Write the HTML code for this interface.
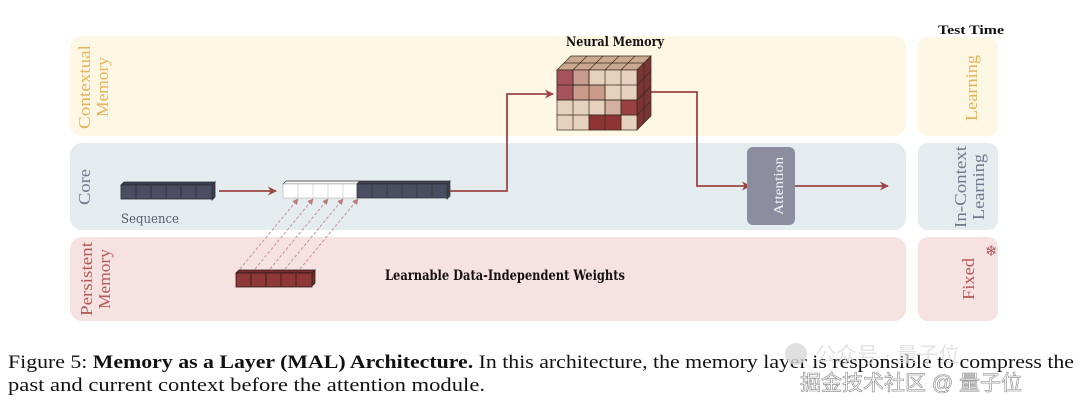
<!DOCTYPE html>
<html><head><style>
html,body{margin:0;padding:0;background:#fff;}
svg{display:block;}
</style></head><body>
<svg width="1080" height="406" viewBox="0 0 1080 406" xmlns="http://www.w3.org/2000/svg" font-family="'Liberation Serif', serif">
<defs>
<marker id="ah" viewBox="0 0 10 10" refX="9" refY="5" markerWidth="9" markerHeight="9" orient="auto" markerUnits="userSpaceOnUse"><path d="M0,0 L10,5 L0,10 L3,5 Z" fill="#9c4545"/></marker>
<marker id="ahs" viewBox="0 0 10 10" refX="9" refY="5" markerWidth="6" markerHeight="6" orient="auto" markerUnits="userSpaceOnUse"><path d="M0,0 L10,5 L0,10 Z" fill="#b97a7a"/></marker>
</defs>
<rect x="70" y="36" width="836" height="100" rx="12" fill="#fdf7e4"/>
<rect x="70" y="143" width="836" height="87" rx="12" fill="#e5ecef"/>
<rect x="70" y="237" width="836" height="84" rx="12" fill="#f7e2e2"/>
<rect x="918" y="37" width="80" height="99" rx="10" fill="#fdf7e4"/>
<rect x="918" y="143" width="80" height="87" rx="10" fill="#e5ecef"/>
<rect x="918" y="237" width="80" height="84" rx="10" fill="#f7e2e2"/>
<text x="971" y="34" font-size="13" font-weight="bold" text-anchor="middle" fill="#111" textLength="66" lengthAdjust="spacingAndGlyphs">Test Time</text>
<g font-size="16.5">
<text transform="translate(90,87) rotate(-90)" text-anchor="middle" fill="#e8b25a" textLength="84" lengthAdjust="spacingAndGlyphs">Contextual</text>
<text transform="translate(108,87) rotate(-90)" text-anchor="middle" fill="#e8b25a" textLength="60" lengthAdjust="spacingAndGlyphs">Memory</text>
<text transform="translate(90,187) rotate(-90)" text-anchor="middle" fill="#6e7b8e" textLength="36" lengthAdjust="spacingAndGlyphs">Core</text>
<text transform="translate(92,279) rotate(-90)" text-anchor="middle" fill="#b45a5a" textLength="74" lengthAdjust="spacingAndGlyphs">Persistent</text>
<text transform="translate(110,279) rotate(-90)" text-anchor="middle" fill="#b45a5a" textLength="60" lengthAdjust="spacingAndGlyphs">Memory</text>
<text transform="translate(977,88) rotate(-90)" text-anchor="middle" fill="#e8b25a" textLength="66" lengthAdjust="spacingAndGlyphs">Learning</text>
<text transform="translate(966,187) rotate(-90)" text-anchor="middle" fill="#6e7b8e" textLength="82" lengthAdjust="spacingAndGlyphs">In-Context</text>
<text transform="translate(984,187) rotate(-90)" text-anchor="middle" fill="#6e7b8e" textLength="66" lengthAdjust="spacingAndGlyphs">Learning</text>
<text transform="translate(974,279) rotate(-90)" text-anchor="middle" fill="#b45a5a" textLength="42" lengthAdjust="spacingAndGlyphs">Fixed</text>
</g>
<text x="985" y="256" font-size="15" fill="#b45a5a" font-family="'DejaVu Sans',sans-serif">❄</text>
<g stroke="#2a2a35" stroke-width="0.8">
<path d="M121,185 l3,-3 h91 l-3,3 z M212,185 l3,-3 v15 l-3,3 z" fill="#3d3f52"/>
<rect x="121" y="185" width="91" height="14" fill="#4b4e63"/>
<path d="M136,185v14M151,185v14M166,185v14M181,185v14M196,185v14"/>
</g>
<text x="121" y="223" font-size="13" fill="#555c6a" font-family="'DejaVu Serif','Liberation Serif',serif" textLength="58" lengthAdjust="spacingAndGlyphs">Sequence</text>
<line x1="219" y1="191" x2="276" y2="191" stroke="#9c4545" stroke-width="1.8" marker-end="url(#ah)"/>
<g stroke="#333" stroke-width="0.7">
<path d="M283,184 l3,-3 h74 l-3,3 z" fill="#f2f2f2"/>
<rect x="283" y="184" width="74" height="14" fill="#fff" stroke="#bbb"/>
<path d="M298,184v14M313,184v14M328,184v14M343,184v14" stroke="#ccc"/>
<path d="M357,184 l3,-3 h90 l-3,3 z M447,184 l3,-3 v15 l-3,3 z" fill="#3d3f52"/>
<rect x="357" y="184" width="90" height="14" fill="#4b4e63"/>
<path d="M372,184v14M387,184v14M402,184v14M417,184v14M432,184v14"/>
</g>
<g stroke="#c08a8a" stroke-width="0.9" stroke-dasharray="3,2" marker-end="url(#ahs)">
<line x1="240" y1="269" x2="298" y2="199"/>
<line x1="255" y1="269" x2="313" y2="199"/>
<line x1="270" y1="269" x2="328" y2="199"/>
<line x1="285" y1="269" x2="343" y2="199"/>
<line x1="300" y1="269" x2="358" y2="199"/>
</g>
<g stroke="#2a1a1a" stroke-width="0.8">
<path d="M236,273 l3,-3 h76 l-3,3 z M312,273 l3,-3 v13 l-3,3 z" fill="#7a2e2e"/>
<rect x="236" y="273" width="76" height="14" fill="#8e3838"/>
<path d="M251,273v14M266,273v14M281,273v14M296,273v14"/>
</g>
<text x="385" y="280" font-size="14" fill="#111" font-family="'DejaVu Serif','Liberation Serif',serif" font-weight="bold" textLength="240" lengthAdjust="spacingAndGlyphs">Learnable Data-Independent Weights</text>
<polyline points="450,191 507,191 507,94 553,94" fill="none" stroke="#9c4545" stroke-width="1.8" marker-end="url(#ah)"/>
<polyline points="648,92 697,92 697,186 750,186" fill="none" stroke="#9c4545" stroke-width="1.8" marker-end="url(#ah)"/>
<line x1="795" y1="186" x2="888" y2="186" stroke="#9c4545" stroke-width="1.8" marker-end="url(#ah)"/>
<rect x="747" y="147" width="48" height="78" rx="6" fill="#8c8e9f"/>
<text transform="translate(783,186) rotate(-90)" text-anchor="middle" font-size="14" fill="#f4f4f4" textLength="58" lengthAdjust="spacingAndGlyphs">Attention</text>
<text x="615" y="46" font-size="13" text-anchor="middle" font-weight="bold" fill="#111" font-family="'DejaVu Serif','Liberation Serif',serif" textLength="98" lengthAdjust="spacingAndGlyphs">Neural Memory</text>
<g stroke="#3a2a20" stroke-width="0.7">
<path d="M557,70 l14,-14 h80 l-14,14 z" fill="#c9a88e"/>
<path d="M637,70 l14,-14 v60 l-14,14 z" fill="#7a3434"/>
<path d="M573,70 l14,-14 M589,70 l14,-14 M605,70 l14,-14 M621,70 l14,-14 M564,63h80 M637,85 l14,-14 M637,100 l14,-14 M637,115 l14,-14 M644,63v60" fill="none"/>
<rect x="557" y="70" width="80" height="60" fill="#e6d2bc"/>
<rect x="557" y="70" width="16" height="30" fill="#a5525a"/>
<rect x="573" y="85" width="32" height="15" fill="#c99a8a"/>
<rect x="589" y="115" width="32" height="15" fill="#8e3434"/>
<rect x="621" y="100" width="16" height="15" fill="#9b4040"/>
<rect x="605" y="100" width="16" height="15" fill="#d4b0a0"/>
<rect x="573" y="70" width="16" height="15" fill="#c99c90"/>
<path d="M573,70v60M589,70v60M605,70v60M621,70v60M557,85h80M557,100h80M557,115h80" fill="none"/>
</g>
<text x="8" y="368" font-size="19" fill="#111" textLength="1066" lengthAdjust="spacingAndGlyphs">Figure 5: <tspan font-weight="bold">Memory as a Layer (MAL) Architecture.</tspan> In this architecture, the memory layer is responsible to compress the</text>
<text x="8" y="391" font-size="19" fill="#111" textLength="477" lengthAdjust="spacingAndGlyphs">past and current context before the attention module.</text>
<circle cx="796" cy="354" r="11" fill="#d8d8d8" opacity="0.8"/>
<text x="815" y="362" font-size="21" fill="#ddd" font-family="'Liberation Sans','Noto Sans CJK SC',sans-serif" opacity="0.8">公众号 · 量子位</text>
<text x="800" y="390" font-size="21" fill="#fff" stroke="#888" stroke-width="0.6" font-family="'Liberation Sans','Noto Sans CJK SC',sans-serif">掘金技术社区 @ 量子位</text>
</svg>
</body></html>
